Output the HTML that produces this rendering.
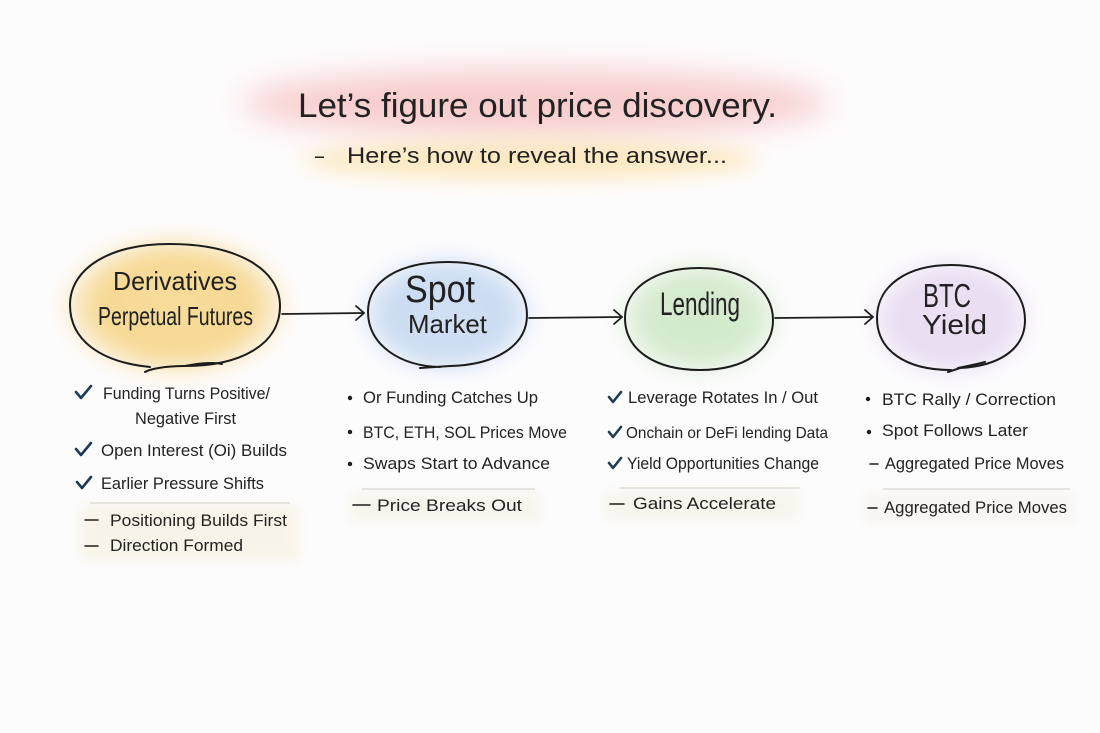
<!DOCTYPE html>
<html>
<head>
<meta charset="utf-8">
<style>
  html,body{margin:0;padding:0;background:#fdfcfd;}
  svg{display:block;}
  text{font-family:"Liberation Sans","DejaVu Sans",sans-serif;fill:#222;}
</style>
</head>
<body>
<svg width="1100" height="733" viewBox="0 0 1100 733" xmlns="http://www.w3.org/2000/svg">
  <defs>
    <filter id="b18" x="-50%" y="-50%" width="200%" height="200%"><feGaussianBlur stdDeviation="16"/></filter>
    <filter id="b10" x="-50%" y="-50%" width="200%" height="200%"><feGaussianBlur stdDeviation="10"/></filter>
    <filter id="b6" x="-50%" y="-50%" width="200%" height="200%"><feGaussianBlur stdDeviation="6"/></filter>
    <radialGradient id="gy" cx="50%" cy="50%" r="50%">
      <stop offset="0" stop-color="#f7dc9c"/><stop offset="0.7" stop-color="#f6d892"/><stop offset="1" stop-color="#f8e4b8" stop-opacity="0.4"/>
    </radialGradient>
    <radialGradient id="gb" cx="50%" cy="50%" r="50%">
      <stop offset="0" stop-color="#d2e1f4"/><stop offset="0.7" stop-color="#c9dbf2"/><stop offset="1" stop-color="#dbe6f6" stop-opacity="0.4"/>
    </radialGradient>
    <radialGradient id="gg" cx="50%" cy="50%" r="50%">
      <stop offset="0" stop-color="#d0e8c9"/><stop offset="0.7" stop-color="#d6ebd0"/><stop offset="1" stop-color="#e2f0dd" stop-opacity="0.4"/>
    </radialGradient>
    <radialGradient id="gp" cx="50%" cy="50%" r="50%">
      <stop offset="0" stop-color="#ece2f4"/><stop offset="0.7" stop-color="#e7dcf1"/><stop offset="1" stop-color="#efe7f5" stop-opacity="0.4"/>
    </radialGradient>
  </defs>
  <rect width="1100" height="733" fill="#fdfcfd"/>

  <!-- header highlights -->
  <ellipse cx="535" cy="103" rx="295" ry="34" fill="#f6c4c4" opacity="0.85" filter="url(#b18)"/>
  <ellipse cx="530" cy="160" rx="230" ry="20" fill="#fbe3ad" opacity="0.75" filter="url(#b10)"/>

  <!-- node glows -->
  <ellipse cx="175" cy="306" rx="112" ry="70" fill="url(#gy)" filter="url(#b10)"/>
  <ellipse cx="447" cy="314" rx="88" ry="60" fill="url(#gb)" filter="url(#b10)"/>
  <ellipse cx="699" cy="318" rx="82" ry="58" fill="url(#gg)" filter="url(#b10)"/>
  <ellipse cx="951" cy="318" rx="82" ry="60" fill="url(#gp)" filter="url(#b10)"/>

  <!-- faint highlights under footers -->
  <rect x="80" y="505" width="220" height="55" fill="#f6f2e3" opacity="0.8" filter="url(#b6)"/>
  <rect x="350" y="492" width="190" height="30" fill="#f4f3e8" opacity="0.8" filter="url(#b6)"/>
  <rect x="605" y="490" width="195" height="30" fill="#f4f3e8" opacity="0.8" filter="url(#b6)"/>
  <rect x="865" y="492" width="210" height="32" fill="#f6f3ee" opacity="0.8" filter="url(#b6)"/>

  <!-- separator lines -->
  <g stroke="#e6e4df" stroke-width="2">
    <line x1="90" y1="503" x2="290" y2="503"/>
    <line x1="362" y1="489" x2="535" y2="489"/>
    <line x1="620" y1="488" x2="800" y2="488"/>
    <line x1="883" y1="489" x2="1070" y2="489"/>
  </g>

  <!-- title -->
  <text x="298" y="117" font-size="34" textLength="479" lengthAdjust="spacingAndGlyphs">Let’s figure out price discovery.</text>
  <text x="315" y="163" font-size="22" textLength="9" lengthAdjust="spacingAndGlyphs">–</text>
  <text x="347" y="163" font-size="22" textLength="380" lengthAdjust="spacingAndGlyphs">Here’s how to reveal the answer...</text>

  <!-- node outlines -->
  <g fill="none" stroke="#1c1c1c" stroke-width="2" stroke-linecap="round">
    <path d="M150,367 C100,362 70,340 70,305 C70,268 110,244 170,244 C235,244 280,268 280,306 C280,345 240,366 185,366 C165,366 150,369 145,372"/>
    <path d="M185,366 C200,363 215,362 222,364"/>
    <path d="M440,367 C400,366 368,345 368,312 C368,280 400,262 448,262 C495,262 527,282 527,315 C527,346 495,365 450,366 L420,368"/>
    <path d="M700,370 C655,370 625,350 625,318 C625,288 655,268 699,268 C745,268 773,290 773,320 C773,350 745,370 700,370"/>
    <path d="M951,370 C905,370 877,350 877,318 C877,285 908,265 951,265 C996,265 1025,288 1025,320 C1025,350 998,366 960,368 L948,372"/>
    <path d="M958,368 C968,366 978,364 985,362"/>
  </g>

  <!-- arrows -->
  <g fill="none" stroke="#1c1c1c" stroke-width="1.8" stroke-linecap="round" stroke-linejoin="round">
    <path d="M282,314 L364,313"/>
    <path d="M356,306 L364,313 L356,320"/>
    <path d="M529,318 L622,317"/>
    <path d="M614,310 L622,317 L614,324"/>
    <path d="M775,318 L873,317"/>
    <path d="M865,310 L873,317 L865,324"/>
  </g>

  <!-- node labels -->
  <text x="113" y="290" font-size="26" textLength="124" lengthAdjust="spacingAndGlyphs">Derivatives</text>
  <text x="98" y="325" font-size="26" textLength="155" lengthAdjust="spacingAndGlyphs">Perpetual Futures</text>
  <text x="405" y="302" font-size="38" textLength="70" lengthAdjust="spacingAndGlyphs">Spot</text>
  <text x="408" y="333" font-size="26" textLength="79" lengthAdjust="spacingAndGlyphs">Market</text>
  <text x="660" y="315" font-size="32" textLength="80" lengthAdjust="spacingAndGlyphs">Lending</text>
  <text x="923" y="307" font-size="33" textLength="48" lengthAdjust="spacingAndGlyphs">BTC</text>
  <text x="922" y="334" font-size="28" textLength="65" lengthAdjust="spacingAndGlyphs">Yield</text>

  <!-- check marks -->
  <g fill="none" stroke="#1f3a55" stroke-width="2.6" stroke-linecap="round" stroke-linejoin="round">
    <path d="M76,392 L81,398 L91,386"/>
    <path d="M76,449 L81,455 L91,443"/>
    <path d="M77,482 L82,488 L91,477"/>
    <path d="M609,397 L613,402 L621,392"/>
    <path d="M609,432 L613,437 L621,427"/>
    <path d="M609,463 L613,468 L621,458"/>
  </g>

  <!-- bullets -->
  <g fill="#1c1c1c">
    <circle cx="350" cy="398" r="2.2"/>
    <circle cx="350" cy="432" r="2.2"/>
    <circle cx="350" cy="464" r="2.2"/>
    <circle cx="868" cy="399" r="2.2"/>
    <circle cx="869" cy="432" r="2.2"/>
  </g>

  <!-- dashes -->
  <g stroke="#1c1c1c" stroke-width="1.5" stroke-linecap="round">
    <line x1="85" y1="520" x2="98" y2="520"/>
    <line x1="85" y1="546" x2="98" y2="546"/>
    <line x1="353" y1="505" x2="370" y2="505"/>
    <line x1="610" y1="504" x2="624" y2="504"/>
    <line x1="870" y1="464" x2="878" y2="464"/>
    <line x1="868" y1="508" x2="877" y2="508"/>
  </g>

  <!-- lists -->
  <g font-size="17">
    <text x="103" y="399" textLength="167" lengthAdjust="spacingAndGlyphs">Funding Turns Positive/</text>
    <text x="135" y="424" textLength="101" lengthAdjust="spacingAndGlyphs">Negative First</text>
    <text x="101" y="456" textLength="186" lengthAdjust="spacingAndGlyphs">Open Interest (Oi) Builds</text>
    <text x="101" y="489" textLength="163" lengthAdjust="spacingAndGlyphs">Earlier Pressure Shifts</text>
    <text x="110" y="526" textLength="177" lengthAdjust="spacingAndGlyphs">Positioning Builds First</text>
    <text x="110" y="551" textLength="133" lengthAdjust="spacingAndGlyphs">Direction Formed</text>

    <text x="363" y="403" textLength="175" lengthAdjust="spacingAndGlyphs">Or Funding Catches Up</text>
    <text x="363" y="438" textLength="204" lengthAdjust="spacingAndGlyphs">BTC, ETH, SOL Prices Move</text>
    <text x="363" y="469" textLength="187" lengthAdjust="spacingAndGlyphs">Swaps Start to Advance</text>
    <text x="377" y="511" textLength="145" lengthAdjust="spacingAndGlyphs">Price Breaks Out</text>

    <text x="628" y="403" textLength="190" lengthAdjust="spacingAndGlyphs">Leverage Rotates In / Out</text>
    <text x="626" y="438" font-size="16" textLength="202" lengthAdjust="spacingAndGlyphs">Onchain or DeFi lending Data</text>
    <text x="627" y="469" textLength="192" lengthAdjust="spacingAndGlyphs">Yield Opportunities Change</text>
    <text x="633" y="509" textLength="143" lengthAdjust="spacingAndGlyphs">Gains Accelerate</text>

    <text x="882" y="405" textLength="174" lengthAdjust="spacingAndGlyphs">BTC Rally / Correction</text>
    <text x="882" y="436" textLength="146" lengthAdjust="spacingAndGlyphs">Spot Follows Later</text>
    <text x="885" y="469" textLength="179" lengthAdjust="spacingAndGlyphs">Aggregated Price Moves</text>
    <text x="884" y="513" textLength="183" lengthAdjust="spacingAndGlyphs">Aggregated Price Moves</text>
  </g>
</svg>
</body>
</html>
